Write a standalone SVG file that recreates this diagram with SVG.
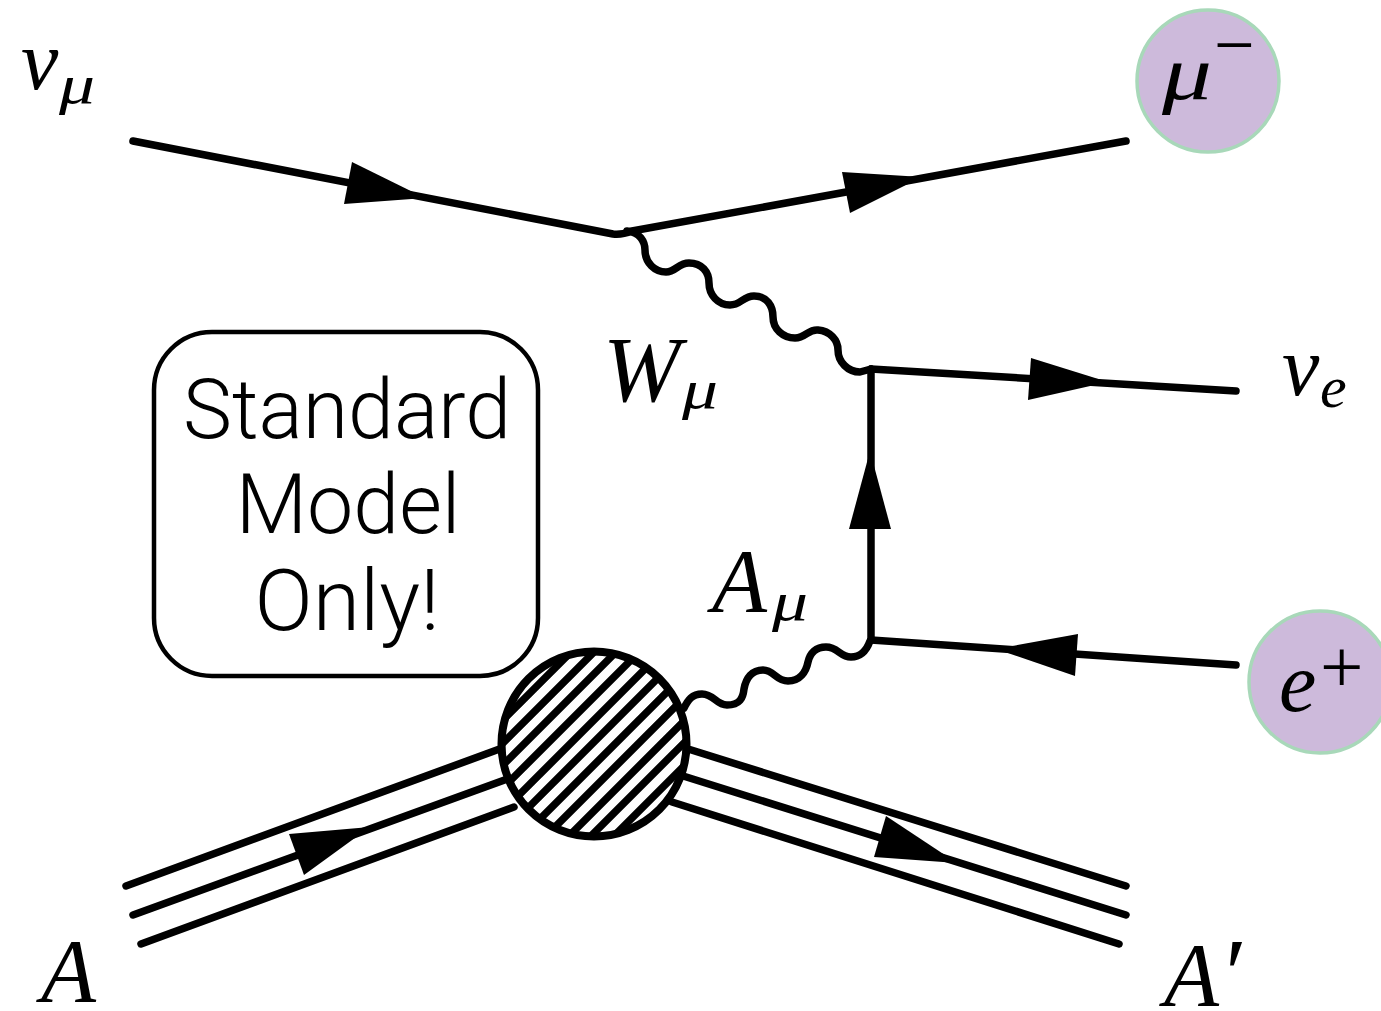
<svg xmlns="http://www.w3.org/2000/svg" width="1381" height="1011" viewBox="0 0 1381 1011">
<style>
.l{fill:none;stroke:#000;stroke-width:7.5;stroke-linecap:round;stroke-linejoin:round}
.h{fill:none;stroke:#000;stroke-width:7.5}
.a{fill:#000}
.m{font-family:"Liberation Serif",serif;font-style:italic;fill:#000}
.r{font-family:"Liberation Serif",serif;fill:#000}
.t{font-family:Roboto,"Liberation Sans",sans-serif;font-weight:300;font-size:82.5px;fill:#000;text-anchor:middle}
.c{fill:#cdbadb;stroke:#a8d8b9;stroke-width:3.5}
</style>
<defs><clipPath id="cp"><circle cx="594" cy="744" r="92"/></clipPath></defs>
<rect width="1381" height="1011" fill="#fff"/>
<g id="connectors">
<path class="l" d="M133 141L613 234Q622 235 632 231L1126 141"/>
<path class="l" d="M627 231C640 232 645 242 645 250C645 263 655 272 666 272C676 272 678 263 689 263C702 263 709 272 709 283C709 295 718 305 730 305C741 305 743 296 754 296C767 296 773 306 773 317C773 329 783 338 795 338C806 338 808 329 818 330C830 331 838 340 838 350C838 362 848 372 860 372L871 369"/>
<path class="l" d="M871 369L1236 391"/>
<path class="l" d="M871 369L871 640"/>
<path class="l" d="M871 640L1236 665"/>
<path class="l" d="M684 708C688 700 692 694 702 694C714 694 716 705 727 705C740 705 743 698 744 689C746 678 752 670 763 670C774 670 776 681 788 681C800 681 806 672 808 662C810 653 816 647 826 647C838 647 840 657 851 657C860 657 866 652 870 641"/>
<path class="l" d="M126 886L505 747"/>
<path class="l" d="M133 915L510 778"/>
<path class="l" d="M141 944L514 807"/>
<path class="l" d="M685 748L1126 886"/>
<path class="l" d="M680 775L1126 915"/>
<path class="l" d="M672 802L1119 944"/>
<polygon class="a" points="425,198 344,204 352,162"/>
<polygon class="a" points="922,177 850,213 842,172"/>
<polygon class="a" points="1108,382 1028,400 1031,358"/>
<polygon class="a" points="870,451 891,529 849,529"/>
<polygon class="a" points="996,649 1078,634 1075,676"/>
<polygon class="a" points="370,827 304,875 289,834"/>
<polygon class="a" points="957,863 874,857 886,816"/>
</g>
<g id="blob">
<circle cx="594" cy="744" r="92" fill="#fff"/>
<g clip-path="url(#cp)"><path class="h" d="M480 743L710 513M480 766L710 536M480 788L710 558M480 811L710 581M480 834L710 604M480 856L710 626M480 879L710 649M480 902L710 672M480 925L710 695M480 947L710 717M480 970L710 740"/></g>
<circle cx="594" cy="744" r="92.5" fill="none" stroke="#000" stroke-width="8"/>
</g>
<g id="sm-box">
<rect x="154" y="332" width="384" height="344" rx="58" fill="#fff" stroke="#000" stroke-width="4.5"/>
<text class="t" x="347" y="438">Standard</text>
<text class="t" x="348" y="533">Model</text>
<text class="t" x="347" y="630" style="font-size:86px">Only!</text>
</g>
<g id="mu-minus">
<circle class="c" cx="1208" cy="81" r="71"/>
<text class="m" x="1162" y="99" font-size="76" textLength="50" lengthAdjust="spacingAndGlyphs">μ</text>
<text class="r" x="1214" y="69" font-size="72">−</text>
</g>
<g id="e-plus">
<circle class="c" cx="1320" cy="682" r="71"/>
<text class="m" x="1279" y="711" font-size="84">e</text>
<text class="r" x="1320" y="692" font-size="77">+</text>
</g>
<g id="nu-mu"><text class="m" x="21" y="89" font-size="84">ν</text><text class="m" x="59" y="103" font-size="54" textLength="36" lengthAdjust="spacingAndGlyphs">μ</text></g>
<g id="nu-e"><text class="m" x="1282" y="395" font-size="84">ν</text><text class="m" x="1320" y="407" font-size="60">e</text></g>
<g id="W"><text class="m" x="603" y="401" font-size="93">W</text><text class="m" x="682" y="408" font-size="54" textLength="36" lengthAdjust="spacingAndGlyphs">μ</text></g>
<g id="A-mu"><text class="m" x="712" y="612" font-size="90">A</text><text class="m" x="772" y="620" font-size="54" textLength="36" lengthAdjust="spacingAndGlyphs">μ</text></g>
<g id="A"><text class="m" x="41" y="1002" font-size="90">A</text></g>
<g id="A-prime"><text class="m" x="1164" y="1006" font-size="90">A</text><text class="m" x="1219" y="1007" font-size="100">′</text></g>
</svg>
